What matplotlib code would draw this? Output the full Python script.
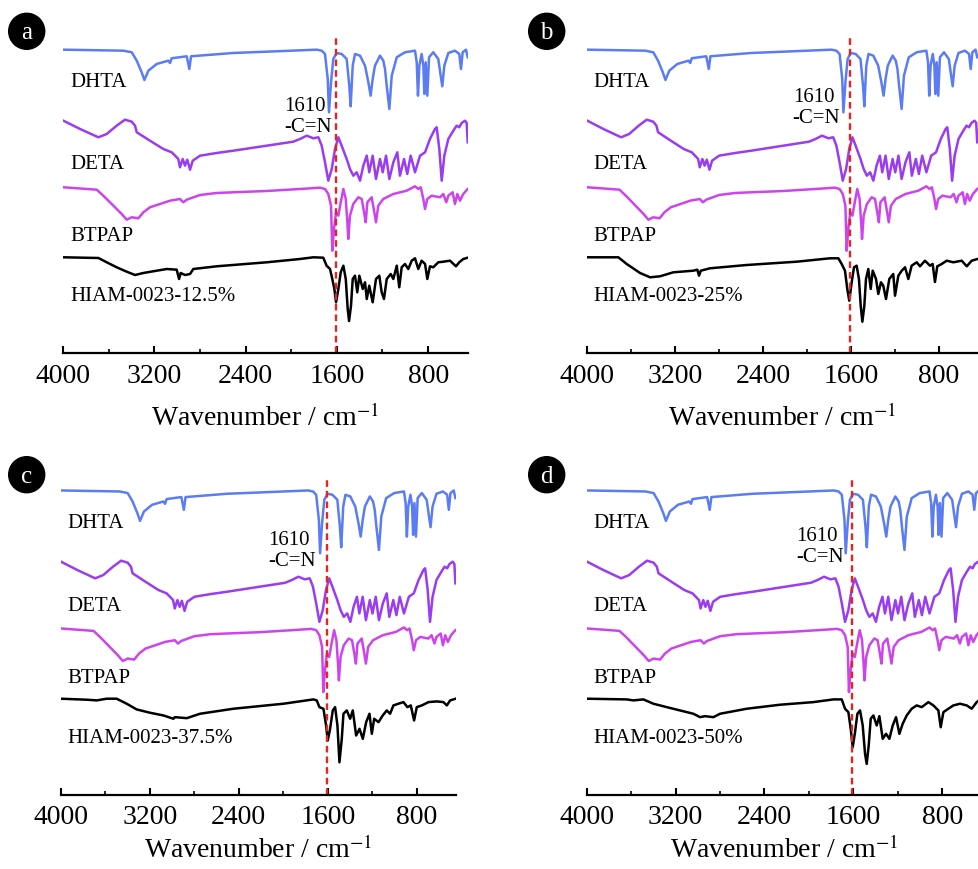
import matplotlib
matplotlib.use('Agg')
import matplotlib.pyplot as plt
from matplotlib.patches import Circle
from matplotlib.ticker import MultipleLocator

plt.rcParams['font.family'] = ['Liberation Serif', 'DejaVu Serif']
plt.rcParams['mathtext.fontset'] = 'stix'

# reference spectra (same in all four panels), transmittance in a.u.
dhta_wn = [3997, 3471, 3398, 3354, 3311, 3287, 3252, 3179, 3077, 3062, 3048, 2916, 2893, 2878, 2507, 2215,
           1777, 1733, 1704, 1680, 1669, 1651, 1631, 1602, 1558, 1514, 1491, 1479, 1461, 1441, 1397, 1353,
           1324, 1304, 1286, 1266, 1222, 1193, 1178, 1163, 1140, 1119, 1075, 1003, 915, 900, 889, 877, 857,
           842, 833, 821, 807, 792, 755, 711, 690, 676, 658, 623, 565, 527, 512, 497, 468, 453]
dhta_t = [99.3, 98.3, 96.7, 88.3, 76.7, 69, 78.3, 85, 88.3, 86, 90.7, 92.7, 80, 92.7, 96, 97.3,
          99.3, 98.3, 95, 70, 36.7, 66.7, 90, 96, 95, 90, 63.3, 42.7, 83.3, 95, 93.3, 83.3,
          66.7, 53.3, 70, 83.3, 93.3, 88.3, 80, 63.3, 40, 73.3, 91.7, 96.7, 98.3, 86.7, 53.3, 83.3, 95,
          83.3, 55, 86.7, 53.3, 91.7, 96.7, 90, 73.3, 62.7, 83.3, 96, 98.3, 95, 80, 96.7, 99.3, 91.7]

deta_wn = [3997, 3851, 3690, 3617, 3530, 3457, 3398, 3369, 3354, 3340, 3238, 3121, 3048, 3018, 2990, 2975,
           2951, 2931, 2911, 2887, 2863, 2799, 2653, 2507, 2215, 1982, 1923, 1864, 1806, 1762, 1733, 1704,
           1675, 1645, 1616, 1587, 1558, 1514, 1485, 1456, 1426, 1397, 1368, 1338, 1316, 1286, 1257, 1222,
           1198, 1169, 1140, 1105, 1070, 1047, 1011, 983, 953, 915, 871, 827, 784, 740, 725, 702, 681, 658,
           623, 579, 550, 527, 506, 477, 462, 453]
deta_t = [98.3, 90, 81.7, 85, 93.3, 99.3, 97.3, 93.3, 86.7, 85.7, 78.3, 70, 66.7, 63.3, 60, 51.7,
          60, 53.3, 59.3, 49.3, 58.3, 63.3, 66, 68.3, 73.3, 77.3, 80, 83.3, 80.7, 81.7, 73.3, 56.7,
          38.3, 50, 70, 81.7, 73.3, 60, 50, 43.3, 46.7, 38.3, 53.3, 63.3, 46.7, 63.3, 40, 60,
          46.7, 63.3, 40, 56.7, 66.7, 43.3, 60, 45, 63.3, 46.7, 63.3, 66.7, 80, 90, 91.7, 70, 38.3, 63.3,
          80, 88.3, 93.3, 91.7, 96, 98.3, 96, 76.7]

btpap_wn = [3997, 3705, 3647, 3559, 3486, 3442, 3398, 3340, 3296, 3238, 3150, 3062, 2975, 2946, 2916, 2799,
            2653, 2507, 2215, 1923, 1748, 1704, 1675, 1651, 1640, 1625, 1607, 1587, 1566, 1543, 1522, 1508,
            1500, 1485, 1456, 1412, 1382, 1359, 1347, 1333, 1295, 1274, 1257, 1237, 1193, 1105, 988, 915,
            886, 865, 842, 827, 807, 769, 696, 667, 641, 623, 585, 565, 544, 521, 492, 453]
btpap_t = [97.7, 95.3, 89.3, 79.3, 71, 65.3, 67.7, 66.7, 72.7, 77.7, 81, 84.3, 86, 82.7, 85.3, 90,
           92, 92.7, 94, 96, 97.3, 96, 91, 79.3, 34.3, 56, 72.7, 69.3, 82.7, 96, 86, 62.7,
           46, 69.3, 81, 87.7, 86, 71, 62.7, 82.7, 87.7, 74.3, 62.7, 79.3, 86, 91, 94.3, 98.7,
           96, 97.7, 86, 76, 86, 89.3, 87.7, 91, 82.7, 89.3, 92.7, 81, 91, 84.3, 91, 96]

# HIAM-0023 samples
h1_wn = [3997, 3690, 3617, 3530, 3442, 3369, 3296, 3179, 3091, 3004, 2983, 2969, 2931, 2887, 2858, 2653,
         2215, 1923, 1806, 1719, 1690, 1660, 1640, 1622, 1607, 1587, 1566, 1543, 1522, 1505, 1493, 1476,
         1461, 1441, 1421, 1403, 1373, 1353, 1338, 1316, 1286, 1257, 1228, 1207, 1187, 1163, 1128, 1105,
         1075, 1053, 1032, 1003, 974, 944, 915, 886, 857, 827, 807, 784, 755, 711, 667, 608, 556, 527, 492, 453]
h1_t = [95.7, 95, 90.7, 85.7, 81.3, 78, 80, 82.3, 84, 83.3, 74, 80, 78, 79, 84, 86.7,
        90.7, 94, 95.7, 95.3, 87.3, 84, 74, 64, 50.7, 64, 80.7, 87.3, 74, 44, 32, 47.3,
        74, 77.3, 60.7, 77.3, 64, 70.7, 54, 67.3, 50.7, 74, 77.3, 60.7, 54, 74, 79, 74,
        87.3, 65.7, 85.7, 89, 84, 92.3, 94.7, 84, 92.3, 89, 74, 86.7, 85.7, 90.7, 91.3, 92.3, 86.7, 90.7, 94, 95.3]

h2_wn = [4000, 3715, 3639, 3518, 3427, 3336, 3215, 3034, 2997, 2982, 2966, 2882, 2548, 2094, 1791, 1715,
         1685, 1655, 1634, 1616, 1594, 1573, 1549, 1528, 1512, 1497, 1479, 1464, 1443, 1421, 1403, 1373,
         1352, 1328, 1307, 1282, 1252, 1216, 1200, 1170, 1139, 1109, 1079, 1049, 1003, 973, 928, 882,
         858, 837, 816, 776, 730, 670, 594, 548, 503, 450]
h2_t = [95.7, 95.7, 89, 80, 75.7, 76.7, 80.7, 82.3, 83.3, 77.3, 82.3, 84.7, 88, 91.3, 94.7, 94.7,
        89, 82.3, 64, 52.3, 70.7, 85.7, 87.3, 74, 47.3, 31.3, 47.3, 74, 84, 64, 82.3, 74,
        59, 70.7, 67.3, 54, 74, 79, 57.3, 77.3, 82.3, 85.7, 74, 87.3, 90.7, 86.7, 92.3, 87.3,
        89, 71, 86.7, 89, 92.3, 90.7, 92.3, 86.7, 92.3, 94]

h3_wn = [4000, 3766, 3676, 3587, 3497, 3407, 3317, 3197, 3077, 2987, 2974, 2867, 2748, 2448, 1998, 1729,
         1699, 1675, 1639, 1615, 1600, 1579, 1555, 1534, 1513, 1495, 1474, 1459, 1429, 1399, 1375, 1345,
         1315, 1285, 1255, 1225, 1204, 1183, 1144, 1106, 1070, 1040, 1010, 965, 920, 884, 854, 824,
         800, 755, 695, 620, 560, 530, 500, 450]
h3_t = [95.7, 94.7, 94, 95.7, 95.7, 90.7, 85, 81.7, 79, 75.7, 77.3, 76.3, 80.7, 85.7, 90.7, 95,
        94, 87.3, 85.7, 69, 54, 65.7, 84, 87.3, 69, 32.3, 55.7, 80.7, 84, 75.7, 84, 59,
        65.7, 55.7, 72.3, 80.7, 60.7, 75.7, 72.3, 79, 84, 80.7, 89, 90.7, 92.3, 87.3, 89, 74,
        87.3, 89, 92.3, 93, 92.3, 89, 94, 95.7]

h4_wn = [4000, 3640, 3580, 3490, 3400, 3280, 3160, 3040, 2980, 2935, 2860, 2800, 2560, 2260, 1960, 1780,
         1705, 1675, 1645, 1624, 1606, 1585, 1564, 1540, 1516, 1495, 1480, 1462, 1444, 1420, 1390, 1366,
         1336, 1306, 1276, 1246, 1216, 1186, 1156, 1120, 1075, 1030, 985, 925, 880, 835, 814, 790,
         745, 700, 640, 580, 535, 490, 450]
h4_t = [95.7, 95, 94, 95, 90.7, 87.3, 84, 80.7, 77.3, 78.3, 77.3, 80.7, 85.7, 89.7, 92.3, 95,
        95, 85.7, 82.3, 65.7, 47.3, 62.3, 80.7, 84, 69, 40.7, 30.7, 49, 75.7, 79, 69, 78.3,
        55.7, 60.7, 55.7, 69, 77.3, 60.7, 70.7, 79, 85.7, 89, 87.3, 92.3, 89, 84, 67.3, 82.3,
        85.7, 89, 90.7, 89, 85.7, 92.3, 95.7]

panel_letters = ['a', 'b', 'c', 'd']
sample_names = ['HIAM-0023-12.5%', 'HIAM-0023-25%', 'HIAM-0023-37.5%', 'HIAM-0023-50%']
samples = [(h1_wn, h1_t), (h2_wn, h2_t), (h3_wn, h3_t), (h4_wn, h4_t)]
ref_names = ['DHTA', 'DETA', 'BTPAP']
refs = [(dhta_wn, dhta_t), (deta_wn, deta_t), (btpap_wn, btpap_t)]
ref_colors = ['#5b7cf3', '#9a3cef', '#cc45ec']
offsets = [204, 134, 68, 0]
label_y = [271, 189, 117, 57]
cn_peak = 1610

# layout (figure fractions) and annotation spots per panel
axes_rects = [[0.0644, 0.5931, 0.4137, 0.3644],
              [0.5996, 0.5931, 0.3989, 0.3644],
              [0.0620, 0.0854, 0.4035, 0.3655],
              [0.5993, 0.0854, 0.4029, 0.3655]]
annot_xy = [(2065, 237), (2130, 246), (2134, 244), (2116, 248)]
xlabel_pad = [11, 11, 4, 4]
circle_px = [(26.7, 32.3), (546.7, 32.3), (26.7, 475.7), (546.7, 475.7)]

W, H = 979, 870
fig = plt.figure(figsize=(W / 100, H / 100), dpi=100)

for i in range(4):
    ax = fig.add_axes(axes_rects[i])
    curves = refs + [samples[i]]
    colors = ref_colors + ['black']
    names = ref_names + [sample_names[i]]
    for j in range(4):
        wn, t = curves[j]
        ax.plot(wn, [v + offsets[j] for v in t], color=colors[j], lw=1.8)
        ax.text(3940, label_y[j], names[j], fontsize=15, ha='left', va='center')
    ax.axvline(cn_peak, color='#e8221c', lw=1.7, ls=(0, (2.8, 1.7)))
    ax.text(annot_xy[i][0], annot_xy[i][1], '1610\n-C=N', fontsize=15,
            ha='left', va='center', linespacing=1.15)

    ax.set_xlim(4000, 450)
    ax.set_ylim(0, 317)
    ax.set_xticks([4000, 3200, 2400, 1600, 800])
    ax.xaxis.set_minor_locator(MultipleLocator(400))
    ax.tick_params(axis='x', which='major', direction='in', length=5, width=1.5, labelsize=20, pad=7)
    ax.tick_params(axis='x', which='minor', direction='in', length=3, width=1.2)
    ax.set_yticks([])
    for s in ['left', 'right', 'top']:
        ax.spines[s].set_visible(False)
    ax.spines['bottom'].set_linewidth(1.6)
    ax.set_xlabel('Wavenumber / cm$^{-1}$', fontsize=20, labelpad=xlabel_pad[i])

    cx, cy = circle_px[i]
    fig.add_artist(Circle((cx / 100, (H - cy) / 100), 0.18, transform=fig.dpi_scale_trans,
                          color='black'))
    fig.text(cx / 100, (H - cy) / 100 - 0.01, panel_letters[i], transform=fig.dpi_scale_trans,
             color='white', fontsize=18, ha='center', va='center')

fig.savefig('out.png', dpi=100)
plt.close()
